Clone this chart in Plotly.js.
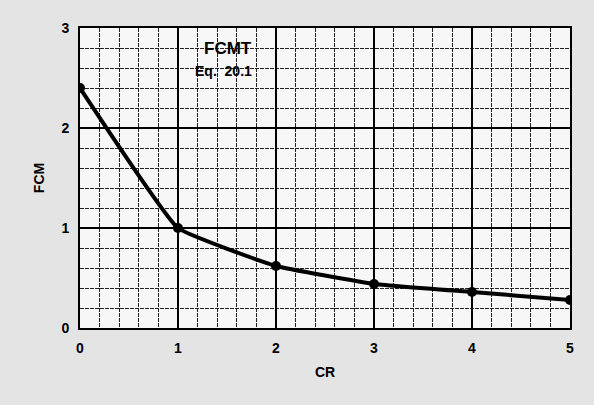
<!DOCTYPE html>
<html>
<head>
<meta charset="utf-8">
<script src="https://cdn.plot.ly/plotly-3.0.1.min.js"></script>
<style>html,body{margin:0;padding:0;background:#e4e4e4;}</style>
</head>
<body>
<div id="chart" style="width:594px;height:405px;"></div>
<script>
const crValues = [0, 1, 2, 3, 4, 5];
const fcmValues = [2.4, 1.0, 0.62, 0.44, 0.36, 0.28];
const xTickVals = [0, 1, 2, 3, 4, 5];
const yTickVals = [0, 1, 2, 3];

const data = [{
  x: crValues,
  y: fcmValues,
  mode: 'lines+markers',
  line: {color: '#000', width: 4, shape: 'spline', smoothing: 0.3},
  marker: {color: '#000', size: 10},
  showlegend: false,
  hoverinfo: 'x+y'
}];

const fnt = {family: 'Liberation Sans, Arial, sans-serif', size: 14, color: '#000', weight: 'bold'};

const layout = {
  width: 594, height: 405,
  margin: {l: 80, r: 24, t: 28, b: 77},
  paper_bgcolor: '#e4e4e4',
  plot_bgcolor: '#f7f7f7',
  xaxis: {
    range: [0, 5], tickvals: xTickVals, ticks: '',
    showline: true, linecolor: '#000', linewidth: 2, mirror: true,
    showgrid: true, gridcolor: '#000', gridwidth: 1.6,
    minor: {dtick: 0.2, showgrid: true, gridcolor: '#222', gridwidth: 1, griddash: '4px,1px'},
    zeroline: false,
    tickfont: fnt, ticklabelstandoff: 6,
    title: {text: 'CR', font: fnt, standoff: 12}
  },
  yaxis: {
    range: [0, 3], tickvals: yTickVals, ticks: '',
    showline: true, linecolor: '#000', linewidth: 2, mirror: true,
    showgrid: true, gridcolor: '#000', gridwidth: 1.6,
    minor: {dtick: 0.2, showgrid: true, gridcolor: '#222', gridwidth: 1, griddash: '4px,1px'},
    zeroline: false,
    tickfont: fnt, ticklabelstandoff: 6,
    title: {text: 'FCM', font: fnt, standoff: 14}
  },
  annotations: [
    {x: 1.24, y: 2.8, xref: 'x', yref: 'y', text: 'FCMT', showarrow: false, xanchor: 'left',
     font: {family: 'Liberation Sans, Arial, sans-serif', size: 17, color: '#000', weight: 'bold'}},
    {x: 1.15, y: 2.57, xref: 'x', yref: 'y', text: 'Eq.  20.1', showarrow: false, xanchor: 'left',
     font: {family: 'Liberation Sans, Arial, sans-serif', size: 14, color: '#000', weight: 'bold'}}
  ]
};

Plotly.newPlot('chart', data, layout, {displayModeBar: false, staticPlot: true});
</script>
</body>
</html>
